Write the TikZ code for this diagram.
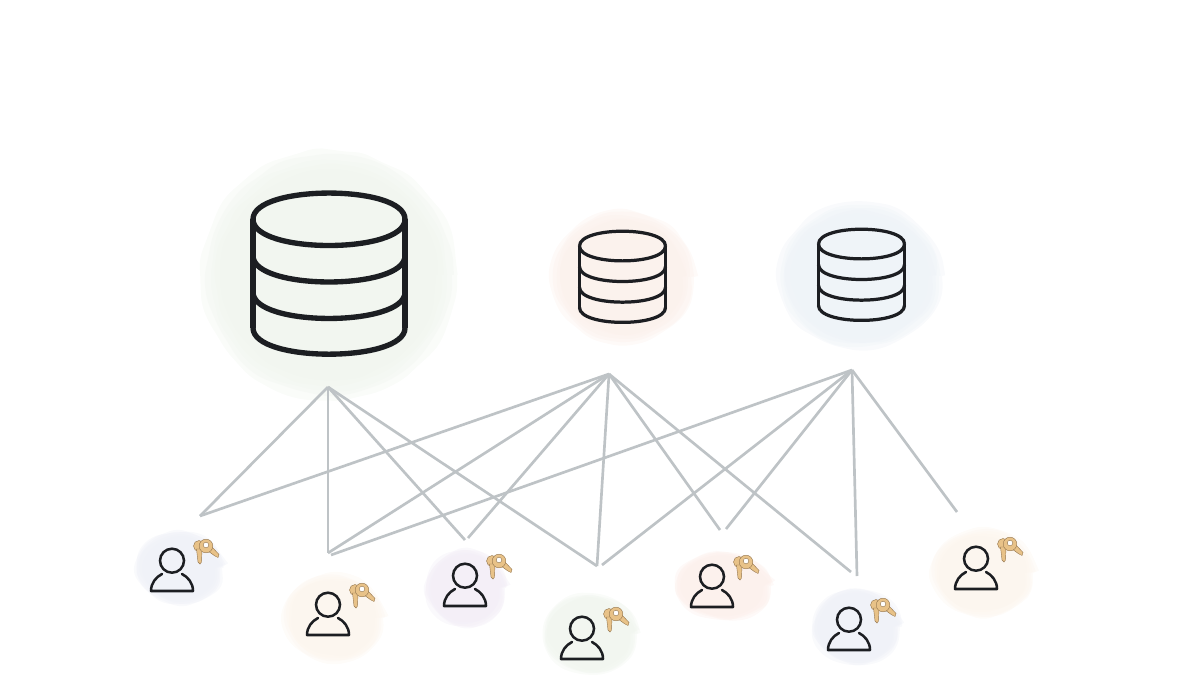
\documentclass[tikz,border=0pt]{standalone}
\usetikzlibrary{decorations.pathmorphing}
\definecolor{linegrey}{RGB}{190,195,198}
\definecolor{inkblack}{RGB}{28,30,34}
\definecolor{keytan}{RGB}{232,194,136}
\definecolor{keyedge}{RGB}{150,120,80}
\definecolor{blobgreen}{RGB}{240,245,238}
\definecolor{blobpink}{RGB}{251,240,235}
\definecolor{blobblue}{RGB}{237,242,247}
\definecolor{blobslate}{RGB}{238,240,247}
\definecolor{blobcream}{RGB}{252,245,237}
\definecolor{blobviolet}{RGB}{242,237,246}
\definecolor{blobrose}{RGB}{252,239,235}
\tikzset{
  blob/.style = {decorate, decoration = {random steps, segment length = 12pt, amplitude = 1.4pt}, rounded corners = 6pt},
  link/.style = {linegrey, line width = 1.9pt},
  keypart/.style = {fill = keytan, draw = keyedge, line width = 0.3pt},
  dbstack/.pic = {
    \begin{scope}[scale = #1, inkblack, line join = round]
      \draw (-1,-0.72) .. controls (-1,-1.18) and (1,-1.18) .. (1,-0.72);
      \draw (-1,-0.72) -- (-1,0.71);
      \draw (1,-0.72) -- (1,0.71);
      \foreach \b in {-0.72,-0.24,0.24,0.71}
      {
        \draw (-1,\b) .. controls (-1,\b+0.46) and (1,\b+0.46) .. (1,\b);
      }
    \end{scope}
  },
  person/.pic = {
    \draw[inkblack, line width = 1.8pt] (0,-10.3) circle (12);
    \draw[inkblack, line width = 1.8pt, line cap = round, line join = round] (-10,3) .. controls (-16,6) and (-21,12) .. (-21,20) -- (21,20) .. controls (21,12) and (16,6) .. (10,3);
    % the two keys
    \path[keypart] (27,-25) circle (5.5);
    \path[keypart] (24.5,-22) -- (26,-9) -- (28,-7) -- (29.5,-9) -- (30,-22) -- cycle;
    \path[keypart] (40,-24) -- (47,-16.5) -- (46,-13.5) -- (43,-15) -- (36,-20) -- cycle;
    \path[keypart] (34,-25) circle (6.8);
    \path[fill = white, draw = keyedge, line width = 0.3pt] (34,-26) circle (2.8);
  }
}
\begin{document}
\begin{tikzpicture}[x = 0.025cm, y = -0.025cm]
\useasboundingbox (0,0) rectangle (1200,675);
% blobs behind everything
\pgfmathsetseed{7}
\foreach \x/\y/\rx/\ry/\col in {329/275/128/125/blobgreen,623/277/71/66/blobpink,860/276/82/73/blobblue,
  180/568/42/35/blobslate,334/618/49/43/blobcream,466/588/39/37/blobviolet,591/634/46/39/blobgreen,
  724/586/47/33/blobrose,857/627/43/37/blobslate,983/573/50/43/blobcream}
{
  \foreach \k in {1.0,0.96,0.92,0.88,0.84}
  {
    \fill[\col, opacity = 0.35, blob] (\x,\y) ellipse (\k*\rx*1 and \k*\ry*1);
  }
}
% connector ends
\coordinate (dbA) at (328,387);
\coordinate (dbB) at (609,374);
\coordinate (dbC) at (852,370);
\coordinate (u1) at (200,516);
\coordinate (u2) at (328,553);
\coordinate (u2b) at (331,555);
\coordinate (u3) at (465,540);
\coordinate (u3b) at (468,538);
\coordinate (u4) at (597,566);
\coordinate (u4b) at (602,565);
\coordinate (u5) at (720,530);
\coordinate (u5b) at (726,529);
\coordinate (u6) at (851,572);
\coordinate (u6b) at (857,576);
\coordinate (u7) at (957,512);
\foreach \from/\to in {dbA/u1,dbA/u2,dbA/u3,dbA/u4,dbB/u1,dbB/u2,dbB/u3b,dbB/u4,dbB/u5,dbB/u6,dbC/u2b,dbC/u4b,dbC/u5b,dbC/u6b,dbC/u7}
{
  \draw[link] (\from) -- (\to);
}
% databases
\pic[line width = 3.8pt] at (329,274) {dbstack = 76};
\pic[line width = 2.3pt] at (622.5,277) {dbstack = 43};
\pic[line width = 2.3pt] at (861.5,275) {dbstack = 43};
% users
\foreach \x/\y in {172/571,328/615,465/586,582/639,712/587,849/630,976/569}
{
  \pic at (\x,\y) {person};
}
\end{tikzpicture}
\end{document}
